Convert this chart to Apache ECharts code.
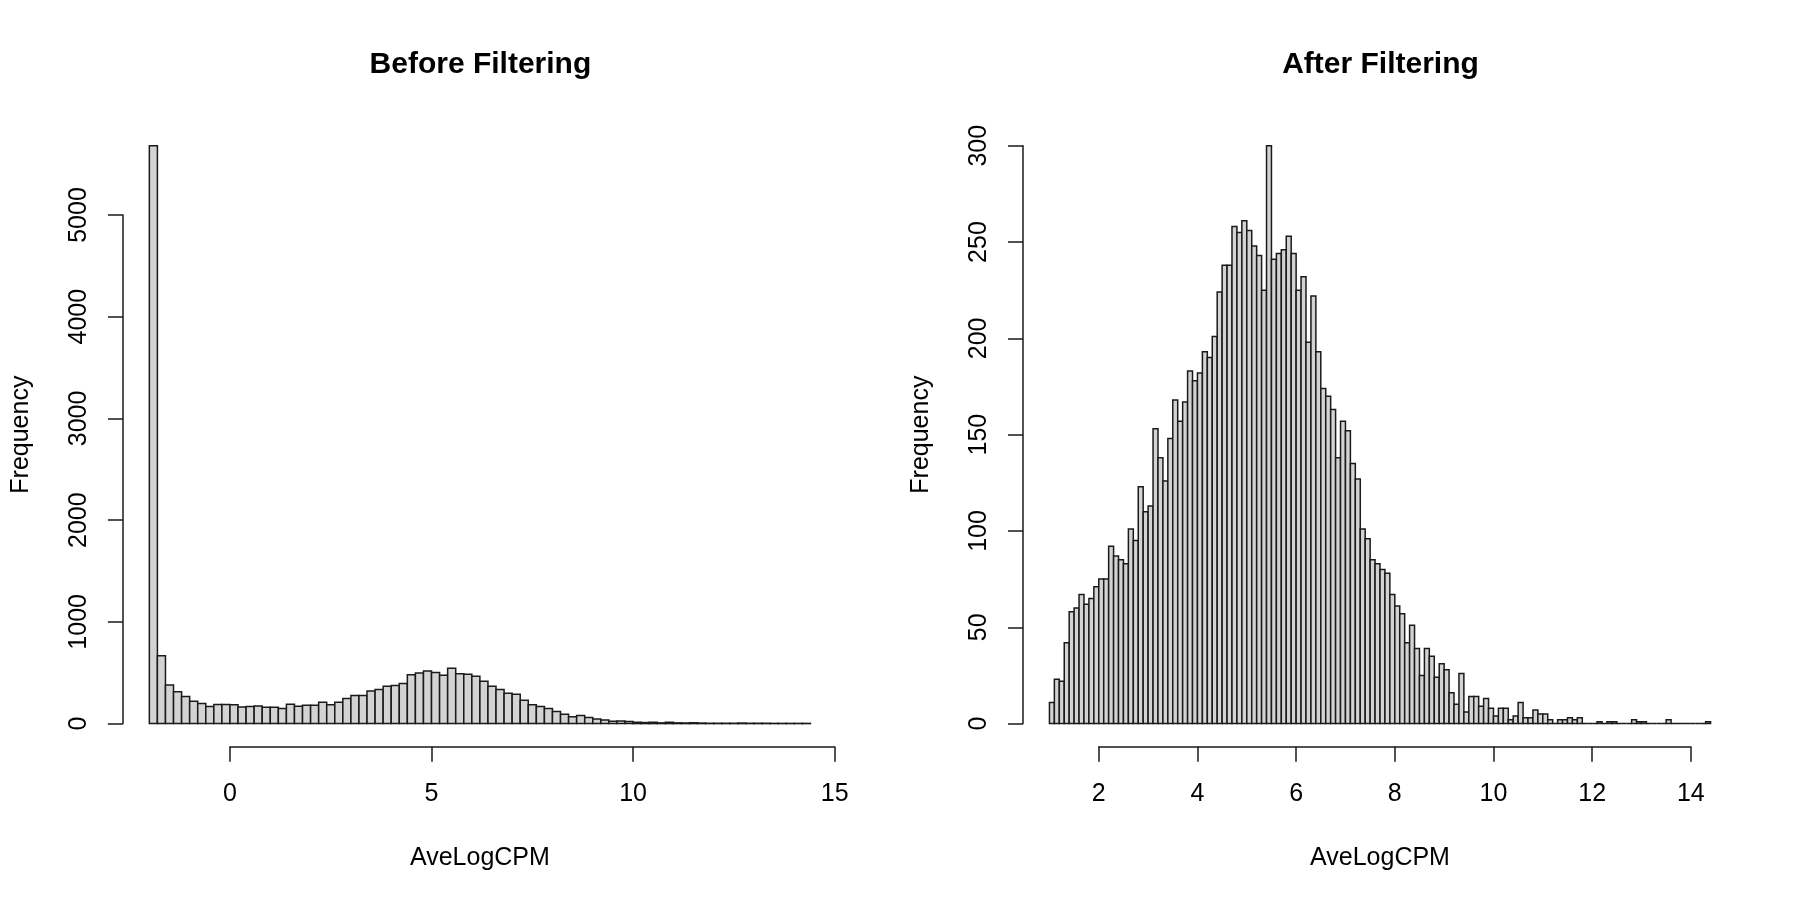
<!DOCTYPE html>
<html>
<head>
<meta charset="utf-8">
<script src="https://cdn.jsdelivr.net/npm/echarts@6/dist/echarts.min.js"></script>
<style>
  html, body { margin: 0; padding: 0; background: #ffffff; }
  #chart { width: 1800px; height: 900px; }
</style>
</head>
<body>
<div id="chart"></div>
<script>
// ---------------- DATA ----------------
// Panel titles and axis titles
const titles = ['Before Filtering', 'After Filtering'];
const xTitle = 'AveLogCPM';
const yTitle = 'Frequency';

// Left histogram: bins of width 0.2 starting at -2.0
const leftBinStart = -2.0;
const leftBinWidth = 0.2;
const leftCounts = [
  5681, 666, 380, 312, 266, 220, 197, 167, 187, 187,
  184, 164, 167, 174, 161, 161, 148, 190, 171, 180,
  180, 210, 184, 210, 246, 275, 275, 321, 334, 367,
  374, 393, 479, 498, 518, 502, 475, 544, 489, 485,
  466, 416, 367, 334, 298, 289, 230, 184, 167, 148,
  118, 92, 66, 79, 59, 46, 36, 23, 26, 20,
  13, 10, 13, 7, 13, 7, 6, 8, 5, 3,
  3, 3, 3, 5, 3, 3, 3, 2, 2, 2,
  2, 2
];
const leftXTicks = [0, 5, 10, 15];
const leftYTicks = [0, 1000, 2000, 3000, 4000, 5000];

// Right histogram: bins of width 0.1 starting at 1.0
const rightBinStart = 1.0;
const rightBinWidth = 0.1;
const rightCounts = [
  11, 23, 22, 42, 58, 60, 67, 62, 65, 71,
  75, 75, 92, 87, 85, 83, 101, 95, 123, 110,
  113, 153, 138, 126, 148, 168, 157, 167, 183, 178,
  182, 193, 190, 201, 224, 238, 238, 258, 255, 261,
  256, 248, 243, 225, 300, 241, 244, 246, 253, 244,
  225, 232, 198, 222, 193, 174, 170, 163, 138, 157,
  152, 135, 127, 101, 96, 85, 83, 80, 78, 67,
  61, 57, 42, 51, 39, 25, 39, 35, 24, 31,
  28, 16, 10, 26, 6, 14, 14, 9, 13, 8,
  4, 8, 8, 2, 4, 11, 3, 3, 7, 5,
  5, 2, 0, 2, 2, 3, 2, 3, 0, 0,
  0, 1, 0, 1, 1, 0, 0, 0, 2, 1,
  1, 0, 0, 0, 0, 2, 0, 0, 0, 0,
  0, 0, 0, 1
];
const rightXTicks = [2, 4, 6, 8, 10, 12, 14];
const rightYTicks = [0, 50, 100, 150, 200, 250, 300];

// ---------------- LAYOUT ----------------
const FONT = "'Liberation Sans', Arial, Helvetica, sans-serif";
const INK = '#1a1a1a';
const plots = [
  { x: 122.9, y: 122.6, w: 714, h: 624.1 },
  { x: 1023, y: 122.6, w: 714, h: 624.1 }
];

function histData(start, width, counts) {
  return counts.map((c, i) => {
    const a = +(start + i * width).toFixed(4);
    const b = +(start + (i + 1) * width).toFixed(4);
    return [a, b, c];
  });
}

function buildPanel(idx, start, width, counts, xTicks, yTicks) {
  const p = plots[idx];
  const bMin = start, bMax = start + counts.length * width;
  const ext = 0.04 * (bMax - bMin);
  const xlim = [bMin - ext, bMax + ext];
  const cMax = Math.max(...counts);
  const ylim = [-0.04 * cMax, 1.04 * cMax];
  const mx = v => p.x + (v - xlim[0]) / (xlim[1] - xlim[0]) * p.w;
  const my = v => p.y + p.h - (v - ylim[0]) / (ylim[1] - ylim[0]) * p.h;

  const xt0 = xTicks[0], xt1 = xTicks[xTicks.length - 1];
  const yt0 = yTicks[0], yt1 = yTicks[yTicks.length - 1];

  const dataGrid = { left: p.x, top: p.y, width: p.w, height: p.h, containLabel: false };
  const axisGrid = {
    left: mx(xt0), top: my(yt1),
    width: mx(xt1) - mx(xt0), height: my(yt0) - my(yt1), containLabel: false
  };
  const lineStyle = { color: INK, width: 1.5 };
  const labelStyle = { color: '#000', fontSize: 25, fontFamily: FONT, formatter: v => String(v) };
  const nameStyle = { color: '#000', fontSize: 25, fontFamily: FONT };

  const xAxes = [
    {
      type: 'value', gridIndex: idx * 2, min: xlim[0], max: xlim[1],
      axisLine: { show: false }, axisTick: { show: false }, axisLabel: { show: false },
      splitLine: { show: false },
      name: xTitle, nameLocation: 'middle', nameGap: 98.5,
      nameTextStyle: nameStyle
    },
    {
      type: 'value', gridIndex: idx * 2 + 1, min: xt0, max: xt1,
      interval: xTicks[1] - xTicks[0], position: 'bottom',
      offset: (p.y + p.h) - my(0),
      axisLine: { show: true, onZero: false, lineStyle },
      axisTick: { show: true, length: 15, lineStyle },
      axisLabel: Object.assign({ margin: 34.5 }, labelStyle),
      splitLine: { show: false }
    }
  ];
  const yAxes = [
    {
      type: 'value', gridIndex: idx * 2, min: ylim[0], max: ylim[1],
      axisLine: { show: false }, axisTick: { show: false }, axisLabel: { show: false },
      splitLine: { show: false },
      name: yTitle, nameLocation: 'middle', nameGap: 89.5,
      nameTextStyle: nameStyle
    },
    {
      type: 'value', gridIndex: idx * 2 + 1, min: yt0, max: yt1,
      interval: yTicks[1] - yTicks[0], position: 'left',
      offset: mx(xt0) - p.x,
      axisLine: { show: true, onZero: false, lineStyle },
      axisTick: { show: true, length: 15, lineStyle },
      axisLabel: Object.assign({ margin: 31, rotate: 90 }, labelStyle),
      splitLine: { show: false }
    }
  ];
  const series = {
    type: 'custom',
    xAxisIndex: idx * 2, yAxisIndex: idx * 2,
    data: histData(start, width, counts),
    clip: false,
    silent: true,
    renderItem: function (params, api) {
      const p0 = api.coord([api.value(0), 0]);
      const p1 = api.coord([api.value(1), api.value(2)]);
      return {
        type: 'rect',
        shape: { x: p0[0], y: p1[1], width: p1[0] - p0[0], height: p0[1] - p1[1] },
        style: { fill: '#d3d3d3', stroke: INK, lineWidth: 1.5 }
      };
    }
  };
  const title = {
    text: titles[idx], left: p.x + p.w / 2 - 4.5, top: 45, textAlign: 'center',
    textStyle: { color: '#000', fontSize: 30, fontWeight: 'bold', fontFamily: FONT }
  };
  return { grids: [dataGrid, axisGrid], xAxes, yAxes, series, title };
}

const L = buildPanel(0, leftBinStart, leftBinWidth, leftCounts, leftXTicks, leftYTicks);
const R = buildPanel(1, rightBinStart, rightBinWidth, rightCounts, rightXTicks, rightYTicks);

const chart = echarts.init(document.getElementById('chart'), null, { renderer: 'canvas' });
chart.setOption({
  animation: false,
  backgroundColor: '#ffffff',
  title: [L.title, R.title],
  grid: [...L.grids, ...R.grids],
  xAxis: [...L.xAxes, ...R.xAxes],
  yAxis: [...L.yAxes, ...R.yAxes],
  series: [L.series, R.series]
});
</script>
</body>
</html>
